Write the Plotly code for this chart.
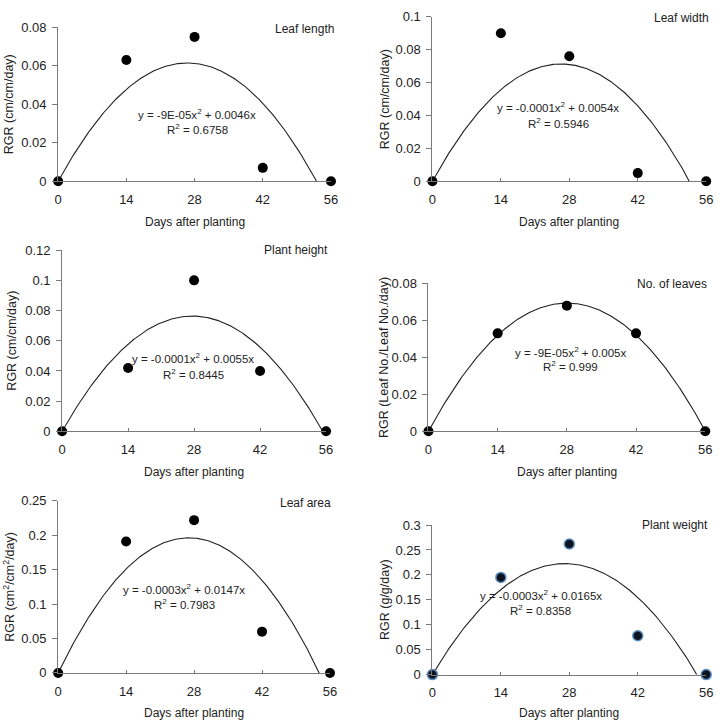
import numpy as np
import plotly.graph_objects as go

W, H = 727, 725

days = [0, 14, 28, 42, 56]
day_ticks = [0, 14, 28, 42, 56]

leaf_length = [0, 0.063, 0.075, 0.007, 0]
leaf_width = [0, 0.090, 0.076, 0.005, 0]
plant_height = [0, 0.042, 0.100, 0.040, 0]
no_leaves = [0, 0.053, 0.068, 0.053, 0]
leaf_area = [0, 0.191, 0.222, 0.060, 0]
plant_weight = [0, 0.195, 0.262, 0.078, 0]

panel_titles = ["Leaf length", "Leaf width", "Plant height", "No. of leaves", "Leaf area", "Plant weight"]
y_titles = ["RGR (cm/cm/day)", "RGR (cm/cm/day)", "RGR (cm/cm/day)",
            "RGR (Leaf No./Leaf No./day)", "RGR (cm<sup>2</sup>/cm<sup>2</sup>/day)", "RGR (g/g/day)"]
equations = ["y = -9E-05x<sup>2</sup> + 0.0046x", "y = -0.0001x<sup>2</sup> + 0.0054x",
             "y = -0.0001x<sup>2</sup> + 0.0055x", "y = -9E-05x<sup>2</sup> + 0.005x",
             "y = -0.0003x<sup>2</sup> + 0.0147x", "y = -0.0003x<sup>2</sup> + 0.0165x"]
r_squared = ["R<sup>2</sup> = 0.6758", "R<sup>2</sup> = 0.5946", "R<sup>2</sup> = 0.8445",
             "R<sup>2</sup> = 0.999", "R<sup>2</sup> = 0.7983", "R<sup>2</sup> = 0.8358"]
y_tickvals = [[0, 0.02, 0.04, 0.06, 0.08],
              [0, 0.02, 0.04, 0.06, 0.08, 0.1],
              [0, 0.02, 0.04, 0.06, 0.08, 0.1, 0.12],
              [0, 0.02, 0.04, 0.06, 0.08],
              [0, 0.05, 0.1, 0.15, 0.2, 0.25],
              [0, 0.05, 0.1, 0.15, 0.2, 0.25, 0.3]]
y_ticktext = [["0", "0.02", "0.04", "0.06", "0.08"],
              ["0", "0.02", "0.04", "0.06", "0.08", "0.1"],
              ["0", "0.02", "0.04", "0.06", "0.08", "0.1", "0.12"],
              ["0", "0.02", "0.04", "0.06", "0.08"],
              ["0", "0.05", "0.1", "0.15", "0.2", "0.25"],
              ["0", "0.05", "0.1", "0.15", "0.2", "0.25", "0.3"]]

series = [leaf_length, leaf_width, plant_height, no_leaves, leaf_area, plant_weight]

# layout (pixels): plot area boxes [left, top, right, bottom]
boxes = [(55, 20.7, 332, 178), (435, 10, 713, 178),
         (59, 248.3, 327, 433.3), (431, 282.3, 712, 433.3),
         (55, 504.3, 331, 680), (435, 529, 713, 681.7)]
ytitle_x = [5, 387, 8, 386.5, 5, 387]
xtitle_y = [220, 220, 475, 475, 721, 721]
label_pos = [(337, 22), (718, 11), (331, 248), (716, 283), (334, 506), (717, 529)]
eq_pos = [(196, 109, 125), (563, 102, 118), (192, 358, 375), (575, 352, 367), (183, 594, 610), (545, 600, 616)]

FONT = "Arial, 'Liberation Sans', sans-serif"
TXT = "#222222"
AX = "#7a7a7a"

fig = go.Figure()
annotations = []

def px(x):
    return x / W

def py(y):
    return 1 - y / H

for i, vals in enumerate(series):
    n = i + 1
    xa = "x" if n == 1 else f"x{n}"
    ya = "y" if n == 1 else f"y{n}"
    x = np.array(days, dtype=float)
    y = np.array(vals, dtype=float)
    A = np.column_stack([x ** 2, x])
    coef, *_ = np.linalg.lstsq(A, y, rcond=None)
    xf = np.linspace(0, 56, 300)
    yf = coef[0] * xf ** 2 + coef[1] * xf
    fig.add_trace(go.Scatter(x=xf, y=yf, mode="lines", line=dict(color="#222222", width=1.1),
                             xaxis=xa, yaxis=ya, showlegend=False, hoverinfo="skip"))
    if i == 5:
        mk = dict(size=10, color="#0d1320", line=dict(color="#5b8fc4", width=1.5))
    else:
        mk = dict(size=10, color="#000000", line=dict(width=0))
    fig.add_trace(go.Scatter(x=days, y=vals, mode="markers", marker=mk, cliponaxis=False,
                             xaxis=xa, yaxis=ya, showlegend=False))

    l, t, r, b = boxes[i]
    xkey = "xaxis" if n == 1 else f"xaxis{n}"
    ykey = "yaxis" if n == 1 else f"yaxis{n}"
    fig.layout[xkey] = dict(domain=[px(l), px(r)], range=[0, 56], anchor=ya,
                            tickvals=day_ticks, ticktext=[str(d) for d in day_ticks],
                            showline=True, linecolor=AX, linewidth=1, showgrid=False, zeroline=False,
                            ticks="inside", ticklen=3, tickcolor=AX, ticklabelstandoff=6,
                            tickfont=dict(family=FONT, size=13, color=TXT))
    fig.layout[ykey] = dict(domain=[py(b), py(t)], range=[0, y_tickvals[i][-1]], anchor=xa,
                            tickvals=y_tickvals[i], ticktext=y_ticktext[i],
                            showline=True, linecolor=AX, linewidth=1, showgrid=False, zeroline=False,
                            ticks="outside", ticklen=5, tickcolor=AX, ticklabelstandoff=3,
                            tickfont=dict(family=FONT, size=13, color=TXT))

    annotations.append(dict(x=px(ytitle_x[i]), y=py((t + b) / 2), xref="paper", yref="paper",
                            text=y_titles[i], textangle=-90, showarrow=False,
                            xanchor="center", yanchor="middle",
                            font=dict(family=FONT, size=12.5, color=TXT)))
    annotations.append(dict(x=px((l + r) / 2), y=py(xtitle_y[i]), xref="paper", yref="paper",
                            text="Days after planting", showarrow=False,
                            xanchor="center", yanchor="middle",
                            font=dict(family=FONT, size=12, color=TXT)))
    lx, ly = label_pos[i]
    annotations.append(dict(x=px(lx), y=py(ly), xref="paper", yref="paper",
                            text=panel_titles[i], showarrow=False,
                            xanchor="right", yanchor="middle",
                            font=dict(family=FONT, size=12, color=TXT)))
    ex, ey1, ey2 = eq_pos[i]
    annotations.append(dict(x=px(ex), y=py(ey1), xref="paper", yref="paper",
                            text=equations[i], showarrow=False,
                            xanchor="center", yanchor="middle",
                            font=dict(family=FONT, size=11.5, color=TXT)))
    annotations.append(dict(x=px(ex), y=py(ey2), xref="paper", yref="paper",
                            text=r_squared[i], showarrow=False,
                            xanchor="center", yanchor="middle",
                            font=dict(family=FONT, size=11.5, color=TXT)))

fig.update_layout(width=W, height=H, margin=dict(l=0, r=0, t=0, b=0),
                  paper_bgcolor="white", plot_bgcolor="white",
                  annotations=annotations, showlegend=False)

fig.write_html("out.html")
